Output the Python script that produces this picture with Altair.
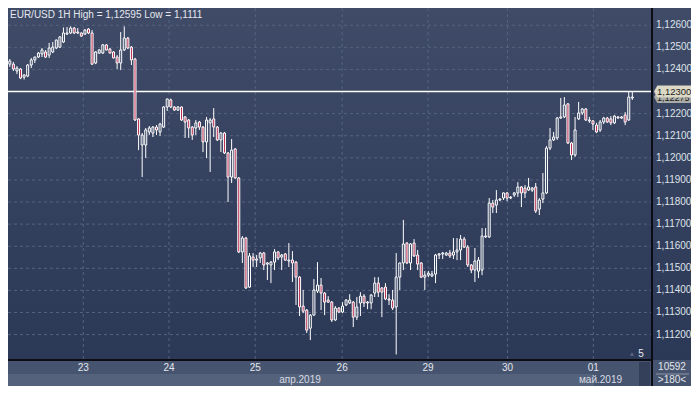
import altair as alt
import pandas as pd

# ---- data (EUR/USD, 1H candles) ----
opens = [
    1.12424, 1.12424, 1.12393, 1.12402, 1.12365, 1.12370, 1.12420, 1.12443, 1.12456, 1.12470,
    1.12479, 1.12465, 1.12479, 1.12497, 1.12501, 1.12524, 1.12560, 1.12565, 1.12587, 1.12569,
    1.12565, 1.12560, 1.12583, 1.12565, 1.12429, 1.12474, 1.12474, 1.12511, 1.12492, 1.12479,
    1.12456, 1.12429, 1.12488, 1.12542, 1.12501, 1.12447, 1.12176, 1.12058, 1.12058, 1.12117,
    1.12112, 1.12139, 1.12117, 1.12139, 1.12230, 1.12262, 1.12230, 1.12216, 1.12230, 1.12185,
    1.12171, 1.12139, 1.12135, 1.12162, 1.12139, 1.12072, 1.12158, 1.12176, 1.12139, 1.12081,
    1.12112, 1.12022, 1.11913, 1.12040, 1.11909, 1.11574, 1.11637, 1.11415, 1.11551, 1.11537,
    1.11547, 1.11569, 1.11519, 1.11515, 1.11528, 1.11574, 1.11551, 1.11565, 1.11533, 1.11537,
    1.11528, 1.11460, 1.11329, 1.11311, 1.11229, 1.11288, 1.11397, 1.11424, 1.11388, 1.11356,
    1.11347, 1.11266, 1.11320, 1.11302, 1.11334, 1.11343, 1.11347, 1.11279, 1.11343, 1.11374,
    1.11343, 1.11343, 1.11388, 1.11433, 1.11411, 1.11415, 1.11361, 1.11356, 1.11325, 1.11460,
    1.11524, 1.11614, 1.11524, 1.11614, 1.11560, 1.11524, 1.11460, 1.11469, 1.11465, 1.11474,
    1.11560, 1.11565, 1.11560, 1.11569, 1.11560, 1.11574, 1.11583, 1.11632, 1.11596, 1.11515,
    1.11492, 1.11487, 1.11492, 1.11642, 1.11642, 1.11795, 1.11786, 1.11809, 1.11818, 1.11841,
    1.11818, 1.11832, 1.11841, 1.11868, 1.11863, 1.11854, 1.11854, 1.11868, 1.11768, 1.11813,
    1.11841, 1.12044, 1.12081, 1.12090, 1.12180, 1.12185, 1.12244, 1.12067, 1.12013, 1.12176,
    1.12203, 1.12221, 1.12171, 1.12167, 1.12148, 1.12126, 1.12162, 1.12180, 1.12176, 1.12158,
    1.12185, 1.12180, 1.12194, 1.12171, 1.12271,
]
highs = [
    1.12447, 1.12434, 1.12415, 1.12406, 1.12379, 1.12424, 1.12452, 1.12458, 1.12479, 1.12497,
    1.12488, 1.12520, 1.12524, 1.12535, 1.12551, 1.12590, 1.12592, 1.12595, 1.12592, 1.12587,
    1.12567, 1.12583, 1.12587, 1.12578, 1.12483, 1.12492, 1.12515, 1.12515, 1.12497, 1.12483,
    1.12465, 1.12569, 1.12595, 1.12547, 1.12506, 1.12452, 1.12180, 1.12112, 1.12135, 1.12144,
    1.12144, 1.12148, 1.12158, 1.12234, 1.12268, 1.12268, 1.12234, 1.12234, 1.12232, 1.12189,
    1.12176, 1.12144, 1.12171, 1.12167, 1.12144, 1.12185, 1.12180, 1.12225, 1.12144, 1.12117,
    1.12117, 1.12026, 1.12085, 1.12044, 1.11913, 1.11646, 1.11642, 1.11569, 1.11569, 1.11560,
    1.11574, 1.11574, 1.11528, 1.11533, 1.11587, 1.11578, 1.11565, 1.11569, 1.11614, 1.11578,
    1.11533, 1.11465, 1.11402, 1.11315, 1.11293, 1.11451, 1.11528, 1.11456, 1.11392, 1.11374,
    1.11352, 1.11329, 1.11324, 1.11347, 1.11361, 1.11383, 1.11352, 1.11370, 1.11392, 1.11383,
    1.11352, 1.11383, 1.11460, 1.11460, 1.11415, 1.11433, 1.11383, 1.11402, 1.11569, 1.11526,
    1.11719, 1.11619, 1.11614, 1.11632, 1.11583, 1.11528, 1.11488, 1.11488, 1.11488, 1.11565,
    1.11569, 1.11574, 1.11574, 1.11583, 1.11637, 1.11637, 1.11651, 1.11642, 1.11605, 1.11519,
    1.11592, 1.11551, 1.11682, 1.11682, 1.11818, 1.11809, 1.11854, 1.11818, 1.11843, 1.11845,
    1.11827, 1.11845, 1.11890, 1.11872, 1.11877, 1.11909, 1.11868, 1.11886, 1.11818, 1.11931,
    1.12053, 1.12135, 1.12117, 1.12185, 1.12271, 1.12275, 1.12248, 1.12072, 1.12185, 1.12253,
    1.12225, 1.12225, 1.12185, 1.12171, 1.12158, 1.12171, 1.12185, 1.12185, 1.12189, 1.12194,
    1.12189, 1.12189, 1.12207, 1.12298, 1.12300,
]
lows = [
    1.12411, 1.12393, 1.12379, 1.12356, 1.12354, 1.12365, 1.12406, 1.12429, 1.12452, 1.12456,
    1.12452, 1.12452, 1.12474, 1.12492, 1.12497, 1.12520, 1.12556, 1.12560, 1.12560, 1.12560,
    1.12547, 1.12556, 1.12560, 1.12420, 1.12424, 1.12470, 1.12470, 1.12486, 1.12472, 1.12450,
    1.12402, 1.12397, 1.12483, 1.12492, 1.12420, 1.12167, 1.12035, 1.11913, 1.11999, 1.12103,
    1.12094, 1.12103, 1.12099, 1.12135, 1.12212, 1.12225, 1.12212, 1.12212, 1.12167, 1.12090,
    1.12090, 1.12081, 1.12103, 1.12126, 1.12026, 1.11999, 1.11936, 1.12094, 1.12076, 1.12026,
    1.12017, 1.11800, 1.11886, 1.11904, 1.11569, 1.11524, 1.11406, 1.11411, 1.11506, 1.11506,
    1.11524, 1.11492, 1.11447, 1.11433, 1.11492, 1.11537, 1.11492, 1.11533, 1.11506, 1.11438,
    1.11334, 1.11284, 1.11297, 1.11207, 1.11175, 1.11286, 1.11388, 1.11311, 1.11288, 1.11343,
    1.11257, 1.11262, 1.11297, 1.11297, 1.11329, 1.11338, 1.11234, 1.11266, 1.11284, 1.11325,
    1.11315, 1.11315, 1.11370, 1.11370, 1.11279, 1.11356, 1.11334, 1.11311, 1.11110, 1.11402,
    1.11492, 1.11519, 1.11492, 1.11551, 1.11492, 1.11456, 1.11402, 1.11460, 1.11460, 1.11433,
    1.11542, 1.11542, 1.11556, 1.11547, 1.11542, 1.11537, 1.11537, 1.11592, 1.11506, 1.11478,
    1.11438, 1.11456, 1.11469, 1.11637, 1.11637, 1.11750, 1.11750, 1.11804, 1.11809, 1.11804,
    1.11813, 1.11823, 1.11823, 1.11777, 1.11818, 1.11850, 1.11845, 1.11750, 1.11741, 1.11795,
    1.11836, 1.12035, 1.12076, 1.12081, 1.12176, 1.12180, 1.12063, 1.11990, 1.12004, 1.12171,
    1.12194, 1.12167, 1.12158, 1.12126, 1.12112, 1.12117, 1.12153, 1.12158, 1.12148, 1.12153,
    1.12176, 1.12176, 1.12148, 1.12167, 1.12262,
]
closes = [
    1.12438, 1.12402, 1.12406, 1.12361, 1.12375, 1.12420, 1.12443, 1.12456, 1.12474, 1.12488,
    1.12456, 1.12497, 1.12501, 1.12533, 1.12547, 1.12565, 1.12565, 1.12587, 1.12565, 1.12565,
    1.12551, 1.12578, 1.12565, 1.12424, 1.12479, 1.12488, 1.12511, 1.12488, 1.12474, 1.12452,
    1.12429, 1.12488, 1.12542, 1.12497, 1.12443, 1.12171, 1.12103, 1.12103, 1.12126, 1.12135,
    1.12139, 1.12126, 1.12153, 1.12230, 1.12266, 1.12230, 1.12216, 1.12230, 1.12171, 1.12162,
    1.12135, 1.12103, 1.12158, 1.12139, 1.12072, 1.12171, 1.12171, 1.12139, 1.12081, 1.12112,
    1.12022, 1.11913, 1.12035, 1.11909, 1.11574, 1.11637, 1.11411, 1.11556, 1.11537, 1.11542,
    1.11569, 1.11515, 1.11524, 1.11528, 1.11574, 1.11547, 1.11560, 1.11537, 1.11537, 1.11524,
    1.11460, 1.11325, 1.11306, 1.11220, 1.11288, 1.11402, 1.11424, 1.11388, 1.11347, 1.11347,
    1.11266, 1.11320, 1.11302, 1.11329, 1.11356, 1.11356, 1.11279, 1.11325, 1.11374, 1.11343,
    1.11347, 1.11379, 1.11433, 1.11392, 1.11392, 1.11361, 1.11356, 1.11320, 1.11460, 1.11524,
    1.11610, 1.11524, 1.11610, 1.11556, 1.11519, 1.11460, 1.11469, 1.11478, 1.11474, 1.11560,
    1.11565, 1.11569, 1.11569, 1.11556, 1.11574, 1.11583, 1.11632, 1.11596, 1.11515, 1.11492,
    1.11533, 1.11537, 1.11646, 1.11646, 1.11795, 1.11777, 1.11809, 1.11813, 1.11841, 1.11818,
    1.11822, 1.11841, 1.11868, 1.11841, 1.11841, 1.11868, 1.11863, 1.11759, 1.11809, 1.11841,
    1.12044, 1.12081, 1.12094, 1.12180, 1.12185, 1.12239, 1.12067, 1.12013, 1.12126, 1.12203,
    1.12221, 1.12171, 1.12167, 1.12153, 1.12117, 1.12162, 1.12180, 1.12162, 1.12158, 1.12189,
    1.12180, 1.12185, 1.12162, 1.12275, 1.12275,
]

day_positions = [20.55, 44.5, 68.6, 92.9, 116.9, 139.1, 163.1]
day_labels = ["23", "24", "25", "26", "29", "30", "01"]
price_ticks = [1.112, 1.113, 1.114, 1.115, 1.116, 1.117, 1.118, 1.119,
               1.120, 1.121, 1.122, 1.124, 1.125, 1.126]
grid_prices = [1.112, 1.113, 1.114, 1.115, 1.116, 1.117, 1.118, 1.119,
               1.120, 1.121, 1.122, 1.123, 1.124, 1.125, 1.126]
last_price = 1.12300
second_price = 1.12275
title_text = "EUR/USD 1H High = 1,12595 Low = 1,1111"
month_labels = ["апр.2019", "май.2019"]
bars_count_text = "10592"
scale_text = ">180<"
shift_text = "5"

# ---- layout / style ----
W, H = 644, 352
RP, BP = 39, 26
FONT = "Liberation Sans"
XDOM = [-0.5, 179.5]
YDOM = [1.11085, 1.12678]
xs = alt.Scale(domain=XDOM, nice=False, zero=False)
ys = alt.Scale(domain=YDOM, nice=False, zero=False)

bg_grad = alt.Gradient(gradient="linear",
                       stops=[alt.GradientStop(color="#3f4b67", offset=0),
                              alt.GradientStop(color="#2b3856", offset=1)],
                       x1=0, x2=0, y1=0, y2=1)
grid_col = "#56637f"
red_fill = "#b8294d"

df = pd.DataFrame({"i": list(range(len(opens))), "o": opens, "h": highs,
                   "l": lows, "c": closes})
df["top"] = df[["o", "c"]].max(axis=1)
df["bot"] = df[["o", "c"]].min(axis=1)
df["up"] = df["c"] >= df["o"]
df["x1"] = df["i"] - 0.28
df["x2"] = df["i"] + 0.28

one = pd.DataFrame({"k": [0]})

def X(field):
    return alt.X(field, type="quantitative", scale=xs, axis=None)

def Y(field):
    return alt.Y(field, type="quantitative", scale=ys, axis=None)

plot_bg = alt.Chart(one).mark_rect(fill=bg_grad).encode(
    x=alt.value(0), x2=alt.value(W), y=alt.value(0), y2=alt.value(H))
right_bg = alt.Chart(one).mark_rect(fill=bg_grad).encode(
    x=alt.value(W), x2=alt.value(W + RP), y=alt.value(0), y2=alt.value(H))
bottom_bg = alt.Chart(one).mark_rect(fill="#46546f").encode(
    x=alt.value(0), x2=alt.value(W + RP), y=alt.value(H), y2=alt.value(H + BP))
strip = alt.Chart(one).mark_rect(fill="#55627b").encode(
    x=alt.value(0), x2=alt.value(586), y=alt.value(H + 14), y2=alt.value(H + BP))
thumb = alt.Chart(one).mark_rect(fill="#34405a").encode(
    x=alt.value(W - 13), x2=alt.value(W - 2), y=alt.value(H + 2), y2=alt.value(H + BP))

hgrid = alt.Chart(pd.DataFrame({"p": grid_prices})).mark_rule(
    color=grid_col, strokeDash=[3, 3], strokeWidth=1).encode(
    y=Y("p"), x=alt.value(0), x2=alt.value(W))
vgrid = alt.Chart(pd.DataFrame({"d": day_positions})).mark_rule(
    color=grid_col, strokeDash=[3, 3], strokeWidth=1).encode(
    x=X("d"), y=alt.value(0), y2=alt.value(H))

price_line = alt.Chart(pd.DataFrame({"p": [last_price]})).mark_rule(
    color="#ffffff", strokeWidth=1.5).encode(y=Y("p"), x=alt.value(0), x2=alt.value(W))

wick_hi = alt.Chart(df).mark_rule(color="#ffffff", strokeWidth=1).encode(
    x=X("i"), y=Y("h"), y2="top:Q")
wick_lo = alt.Chart(df).mark_rule(color="#ffffff", strokeWidth=1).encode(
    x=X("i"), y=Y("bot"), y2="l:Q")
bodies = alt.Chart(df).mark_rect(stroke="#ffffff", strokeWidth=1).encode(
    x=X("x1"), x2="x2:Q", y=Y("top"), y2="bot:Q",
    fill=alt.condition(alt.datum.up, alt.value("transparent"), alt.value(red_fill)))

border_r = alt.Chart(one).mark_rule(color="#0c0c14", strokeWidth=2).encode(
    x=alt.value(W), y=alt.value(0), y2=alt.value(H + BP))
border_b = alt.Chart(one).mark_rule(color="#0c0c14", strokeWidth=2).encode(
    y=alt.value(H), x=alt.value(0), x2=alt.value(W))

title = alt.Chart(one).mark_text(
    text=title_text, align="left", baseline="top", font=FONT, fontSize=10,
    color="#e6e8ee").encode(x=alt.value(2), y=alt.value(2))

ylab_df = pd.DataFrame({"p": price_ticks})
ylab_df["t"] = [f"{v:.5f}".replace(".", ",") for v in price_ticks]
ylabels = alt.Chart(ylab_df).mark_text(
    align="left", baseline="middle", font=FONT, fontSize=10, color="#dfe3ea").encode(
    y=Y("p"), x=alt.value(W + 4), text="t:N")

xlab_df = pd.DataFrame({"d": day_positions, "t": day_labels})
xlabels = alt.Chart(xlab_df).mark_text(
    align="center", baseline="middle", font=FONT, fontSize=10, color="#e3e6ec").encode(
    x=X("d"), y=alt.value(H + 8), text="t:N")

month1 = alt.Chart(one).mark_text(
    text=month_labels[0], align="center", baseline="middle", font=FONT, fontSize=10,
    color="#d8dce4").encode(x=alt.value(292), y=alt.value(H + 20))
month2 = alt.Chart(one).mark_text(
    text=month_labels[1], align="right", baseline="middle", font=FONT, fontSize=10,
    color="#d8dce4").encode(x=alt.value(614), y=alt.value(H + 20))

corner1 = alt.Chart(one).mark_text(
    text=bars_count_text, align="center", baseline="middle", font=FONT, fontSize=10,
    color="#e3e6ec").encode(x=alt.value(W + 20), y=alt.value(H + 7))
corner_sep = alt.Chart(one).mark_rule(color="#8c95a8", strokeWidth=1).encode(
    y=alt.value(H + 14), x=alt.value(W + 4), x2=alt.value(W + 37))
corner2 = alt.Chart(one).mark_text(
    text=scale_text, align="center", baseline="middle", font=FONT, fontSize=10,
    color="#e3e6ec").encode(x=alt.value(W + 20), y=alt.value(H + 20))

shift_lbl = alt.Chart(one).mark_text(
    text=shift_text, align="center", baseline="middle", font=FONT, fontSize=10,
    color="#e6e8ee").encode(x=alt.value(W - 11), y=alt.value(H - 6))
shift_tri = alt.Chart(one).mark_point(
    shape="triangle-up", filled=True, size=18, color="#5d6a86", opacity=1).encode(
    x=alt.value(W - 20), y=alt.value(H - 6))

tag_shape = "M -1 0 L -0.82 -0.32 L 1 -0.32 L 1 0.32 L -0.82 0.32 Z"
tag2 = alt.Chart(pd.DataFrame({"p": [second_price]})).mark_point(
    shape=tag_shape, filled=True, size=1369, color="#a9aba6", opacity=1).encode(
    y=Y("p"), x=alt.value(W + 20.5))
tag2_txt = alt.Chart(pd.DataFrame({"p": [second_price],
                                   "t": [f"{second_price:.5f}".replace(".", ",")]})).mark_text(
    align="left", baseline="middle", font=FONT, fontSize=9, color="#1e1e1e", dy=1).encode(
    y=Y("p"), x=alt.value(W + 5), text="t:N")
tag1 = alt.Chart(pd.DataFrame({"p": [last_price]})).mark_point(
    shape=tag_shape, filled=True, size=1369, color="#dcd9c6", opacity=1).encode(
    y=Y("p"), x=alt.value(W + 20.5))
tag1_txt = alt.Chart(pd.DataFrame({"p": [last_price],
                                   "t": [f"{last_price:.5f}".replace(".", ",")]})).mark_text(
    align="left", baseline="middle", font=FONT, fontSize=9.5, color="#1e1e1e").encode(
    y=Y("p"), x=alt.value(W + 5), text="t:N")

chart = alt.layer(
    plot_bg, right_bg, bottom_bg, strip, thumb,
    hgrid, vgrid, price_line,
    wick_hi, wick_lo, bodies,
    border_r, border_b,
    title, ylabels, xlabels, month1, month2,
    corner1, corner_sep, corner2, shift_tri, shift_lbl,
    tag2, tag2_txt, tag1, tag1_txt,
).properties(
    width=W, height=H,
    padding={"left": 0, "top": 0, "right": RP, "bottom": BP},
    autosize=alt.AutoSizeParams(type="none"),
).configure(background="#354261").configure_view(stroke=None)

chart.save("out.html", embed_options={"renderer": "svg", "actions": False})
